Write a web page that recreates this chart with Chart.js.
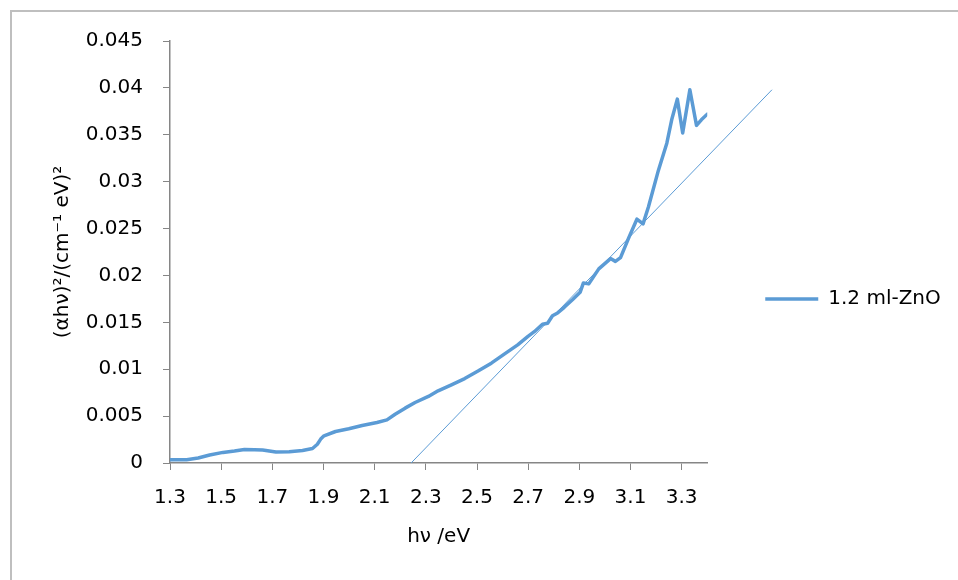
<!DOCTYPE html>
<html>
<head>
<meta charset="utf-8">
<title>Tauc plot</title>
<script src="https://cdn.jsdelivr.net/npm/chart.js@4.4.1/dist/chart.umd.min.js"></script>
<style>
  html, body { margin: 0; padding: 0; background: #fff; }
  #wrap { width: 958px; height: 580px; }
</style>
</head>
<body>
<div id="wrap"><canvas id="tauc" width="958" height="580"></canvas></div>
<script>
// photon energy (eV) and (αhν)² for the 1.2 ml ZnO film
const hv = [
  1.30, 1.365, 1.41, 1.455, 1.507, 1.552, 1.591, 1.63, 1.662, 1.714,
  1.766, 1.818, 1.857, 1.876, 1.889, 1.902, 1.947, 1.999, 2.051, 2.109,
  2.148, 2.18, 2.219, 2.258, 2.31, 2.348, 2.40, 2.452, 2.504, 2.556,
  2.608, 2.659, 2.698, 2.724, 2.756, 2.776, 2.795, 2.815, 2.841, 2.873,
  2.903, 2.916, 2.937, 2.976, 3.022, 3.041, 3.061, 3.093, 3.125, 3.149,
  3.17, 3.209, 3.242, 3.261, 3.283, 3.304, 3.332, 3.358, 3.377, 3.40
];
const absorb = [
  0.00035, 0.00035, 0.00053, 0.00085, 0.00113, 0.00128, 0.00145, 0.00142, 0.00138, 0.00117,
  0.0012, 0.00134, 0.00155, 0.0020, 0.00255, 0.0029, 0.00336, 0.00365, 0.0040, 0.00432,
  0.0046, 0.0052, 0.00585, 0.00645, 0.0071, 0.0077, 0.00834, 0.0090, 0.0098, 0.01065,
  0.01164, 0.0126, 0.01348, 0.0140, 0.0148, 0.0149, 0.0157, 0.0160, 0.0166, 0.0174,
  0.0182, 0.0192, 0.0191, 0.0207, 0.0218, 0.0215, 0.0219, 0.0240, 0.0260, 0.0255,
  0.0273, 0.0312, 0.0341, 0.0366, 0.0388, 0.0352, 0.0398, 0.0360, 0.0366, 0.0372
];

// linear fit of the absorption edge, extrapolated to the axis
const tangentHv = [2.2425, 3.653];
const tangentAbs = [0, 0.0398];

const xTicks = [1.3, 1.5, 1.7, 1.9, 2.1, 2.3, 2.5, 2.7, 2.9, 3.1, 3.3];
const yTicks = [0, 0.005, 0.01, 0.015, 0.02, 0.025, 0.03, 0.035, 0.04, 0.045];
const seriesName = "1.2 ml-ZnO";

const blue = "#5B9BD5";
const axisGray = "#868686";

Chart.defaults.font.family = "'DejaVu Sans', sans-serif";
Chart.defaults.font.size = 20;
Chart.defaults.color = "#000";

// light gray frame round the chart
const frame = {
  id: "frame",
  beforeDraw(chart) {
    const ctx = chart.ctx;
    ctx.save();
    ctx.strokeStyle = "#BFBFBF";
    ctx.lineWidth = 2;
    ctx.strokeRect(11, 11, chart.width, chart.height);
    ctx.restore();
  },
};

function toPoints(xs, ys) {
  return xs.map((x, i) => ({ x: x, y: ys[i] }));
}

new Chart(document.getElementById("tauc"), {
  type: "scatter",
  data: {
    datasets: [
      {
        label: seriesName,
        data: toPoints(hv, absorb),
        showLine: true,
        borderColor: blue,
        backgroundColor: blue,
        borderWidth: 3.5,
        borderCapStyle: "round",
        borderJoinStyle: "round",
        pointRadius: 0,
      },
      {
        label: "fit",
        data: toPoints(tangentHv, tangentAbs),
        showLine: true,
        borderColor: blue,
        backgroundColor: blue,
        borderWidth: 1,
        pointRadius: 0,
        clip: false,
      },
    ],
  },
  options: {
    responsive: false,
    devicePixelRatio: 1,
    animation: false,
    layout: { padding: { left: 0, top: 41, right: 15, bottom: 23 } },
    plugins: {
      tooltip: { enabled: false },
      legend: {
        position: "right",
        labels: {
          filter: (item) => item.datasetIndex === 0,
          usePointStyle: true,
          pointStyle: "line",
          pointStyleWidth: 53,
          padding: 58,
          color: "#000",
        },
      },
    },
    scales: {
      x: {
        type: "linear",
        min: 1.3,
        max: 3.4,
        afterBuildTicks: (s) => { s.ticks = xTicks.map((v) => ({ value: v })); },
        afterFit: (s) => { s.height = 94; },
        ticks: { padding: 16, autoSkip: false, maxRotation: 0, callback: (v) => v.toFixed(1) },
        grid: { drawOnChartArea: false, tickLength: 7, color: axisGray },
        border: { color: axisGray, width: 1.5 },
        title: { display: true, text: "hν /eV", padding: { top: 0, bottom: 8 } },
      },
      y: {
        type: "linear",
        min: 0,
        max: 0.045,
        afterBuildTicks: (s) => { s.ticks = yTicks.map((v) => ({ value: v })); },
        afterFit: (s) => { s.width = 170; },
        ticks: { padding: 20, autoSkip: false, callback: (v) => String(+v.toFixed(3)) },
        grid: { drawOnChartArea: false, tickLength: 7, color: axisGray },
        border: { color: axisGray, width: 1.5 },
        title: { display: true, text: "(αhν)²/(cm⁻¹ eV)²", padding: { top: 51, bottom: 0 } },
      },
    },
  },
  plugins: [frame],
});
</script>
</body>
</html>
